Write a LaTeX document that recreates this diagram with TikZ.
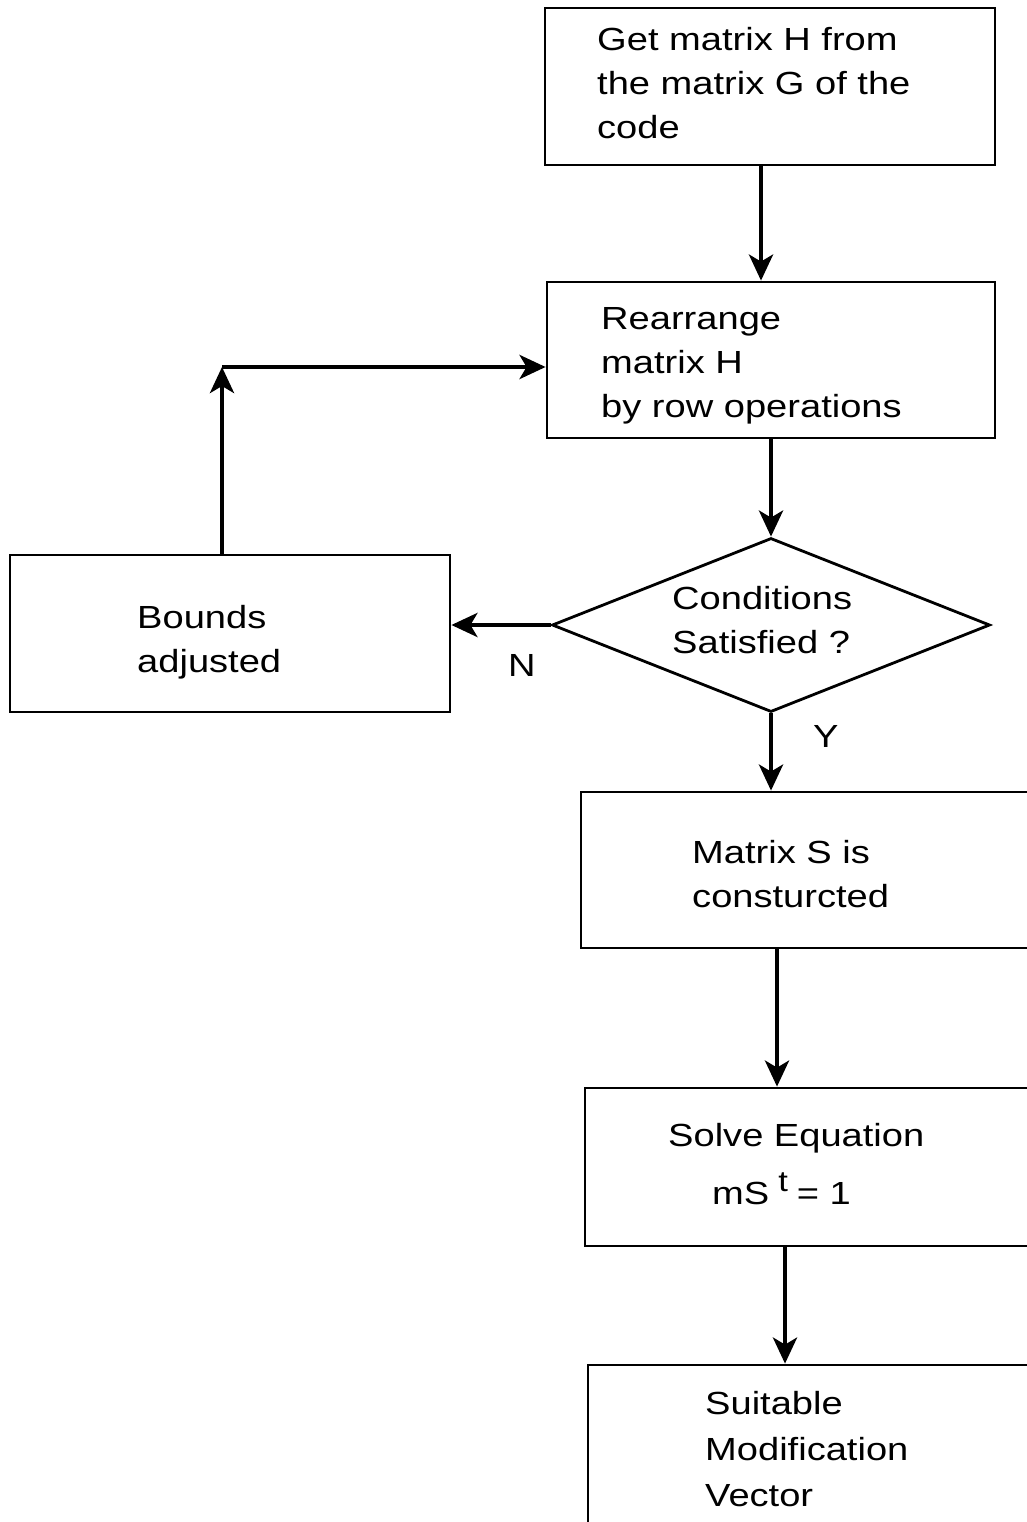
\documentclass[tikz,border=0pt]{standalone}
\usepackage{fontspec}
\setmainfont[FakeStretch=1.19]{Liberation Sans}
\usetikzlibrary{shapes.geometric,arrows.meta}
\begin{document}
\begin{tikzpicture}[x=1pt,y=-1pt,
  box/.style={draw,line width=2.8pt,inner sep=0pt,rectangle},
  dia/.style={draw,line width=2.8pt,inner sep=0pt,diamond},
  txt/.style={inner sep=0pt,align=left,anchor=base west,font=\fontsize{32}{44}\selectfont},
  arr/.style={line width=4.5pt,-{Stealth[length=26pt,width=24pt,inset=7pt]}}]
\useasboundingbox (0,0) rectangle (1027,1522);
% boxes
\node[box,minimum width=450pt,minimum height=157pt] (A) at (770,86.5) {};
\node[box,minimum width=448pt,minimum height=156pt] (B) at (771,360) {};
\node[dia,minimum width=438pt,minimum height=174pt] (D) at (771,625) {};
\node[box,minimum width=440pt,minimum height=157pt] (E) at (230,633.5) {};
\node[box,minimum width=459pt,minimum height=156pt] (F) at (810.5,870) {};
\node[box,minimum width=455pt,minimum height=158pt] (G) at (812.5,1167) {};
\node[box,minimum width=452pt,minimum height=175pt] (H) at (814,1452.5) {};
% texts
\node[txt] (tA) at (597,139) {Get matrix H from\\the matrix G of the\\code};
\node[txt] (tB) at (601,417) {Rearrange\\matrix H\\by row operations};
\node[txt] (tD) at (672,653) {Conditions\\Satisfied ?};
\node[txt] (tE) at (137,672) {Bounds\\adjusted};
\node[txt] (tF) at (692,907) {Matrix S is\\consturcted};
\node[txt] (tG) at (668,1146) {Solve Equation};
\node[txt] (tG2) at (712,1204) {mS\hspace{9pt}\raisebox{13pt}{\fontsize{29}{29}\selectfont t}\hspace{9pt}= 1};
\node[txt,font=\fontsize{32}{46}\selectfont] (tH) at (705,1506) {Suitable\\Modification\\Vector};
\node[txt] (lN) at (508,676) {N};
\node[txt] (lY) at (813,747) {Y};
% connectors
\coordinate (c1) at (222,367);
\draw[arr] (A.south -| 761,0) -- (B.north -| 761,0);
\draw[arr] (B.south -| D.north) -- (D.north);
\draw[arr] (D.west) -- (D.west -| E.east);
\draw[arr] (E.north -| c1) -- (c1);
\draw[arr] (c1) -- (c1 -| B.west);
\draw[arr] (D.south) -- (F.north -| D.south);
\draw[arr] (F.south -| 777,0) -- (G.north -| 777,0);
\draw[arr] (G.south -| 785,0) -- (H.north -| 785,0);
\end{tikzpicture}
\end{document}
